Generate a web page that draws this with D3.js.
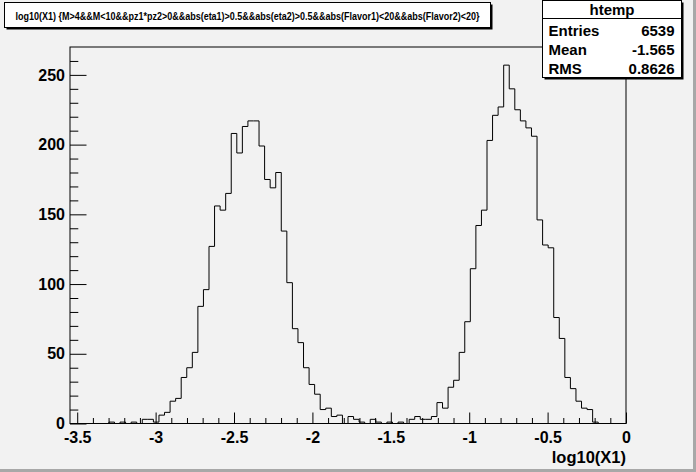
<!DOCTYPE html>
<html>
<head>
<meta charset="utf-8">
<script src="https://cdn.jsdelivr.net/npm/d3@7"></script>
<style>
  body { margin: 0; background: #f2f2f2; }
  text { font-family: "Liberation Sans", Arial, Helvetica, sans-serif; font-weight: bold; }
</style>
</head>
<body>
<div class="chart"></div>
<script>
// histogram htemp : 100 bins of log10(X1)
var xLow = -3.546;
var xHigh = 0;
var counts = [
  0, 0, 0, 0, 0, 0, 0, 1, 0, 1,
  0, 1, 0, 3, 3, 1, 6, 8, 16, 18,
  33, 40, 51, 84, 96, 127, 156, 153, 165, 208,
  194, 213, 217, 217, 199, 175, 169, 180, 138, 101,
  68, 58, 40, 28, 21, 10, 11, 5, 6, 0,
  5, 3, 1, 0, 3, 1, 0, 1, 0, 1,
  0, 3, 5, 3, 3, 5, 15, 11, 26, 31,
  51, 73, 111, 142, 153, 203, 221, 227, 257, 240,
  225, 217, 212, 206, 146, 128, 126, 76, 61, 33,
  25, 16, 11, 10, 1, 0, 0, 0, 0, 0
];
var xTicks = [-3.5, -3, -2.5, -2, -1.5, -1, -0.5, 0];
var yTicks = [0, 50, 100, 150, 200, 250];
var yMax = 270;

var titleText = "log10(X1) {M>4&&M<10&&pz1*pz2>0&&abs(eta1)>0.5&&abs(eta2)>0.5&&abs(Flavor1)<20&&abs(Flavor2)<20}";
var statsName = "htemp";
var statsRows = [["Entries", "6539"], ["Mean", "-1.565"], ["RMS", "0.8626"]];
var xTitle = "log10(X1)";

var svgWidth = 696;
var svgHeight = 472;

var margin = { top: 47, right: 70, bottom: 48.5, left: 70 };
var width = svgWidth - margin.left - margin.right;
var height = svgHeight - margin.top - margin.bottom;

var svg = d3.select(".chart")
  .append("svg")
  .attr("width", svgWidth)
  .attr("height", svgHeight)
  .style("display", "block");

// canvas border (grey bevel right / bottom)
svg.append("rect")
  .attr("width", svgWidth).attr("height", svgHeight)
  .attr("fill", "#f2f2f2");
svg.append("path")
  .attr("d", `M${svgWidth - 1.5},0 V${svgHeight - 1.5} H0`)
  .attr("fill", "none").attr("stroke", "#a8a8a8").attr("stroke-width", 3);

var chartGroup = svg.append("g")
  .attr("transform", `translate(${margin.left}, ${margin.top})`);

// scales
var binWidth = (xHigh - xLow) / counts.length;

var xLinearScale = d3.scaleLinear()
  .domain([xLow, xHigh])
  .range([0, width]);

var yLinearScale = d3.scaleLinear()
  .domain([0, yMax])
  .range([height, 0]);

// minor ticks (every 0.1 on x, every 10 on y), drawn inside the frame
var xMinor = d3.range(-35, 1).map(d => d / 10).filter(d => xTicks.indexOf(d) < 0);
var yMinor = d3.range(0, 261, 10).filter(d => yTicks.indexOf(d) < 0);

// plain hyphen for negative labels, like ROOT
var bottomAxis = d3.axisBottom(xLinearScale)
  .tickValues(xTicks)
  .tickSize(-11)
  .tickPadding(8)
  .tickFormat(d => String(d));

var bottomMinor = d3.axisBottom(xLinearScale)
  .tickValues(xMinor)
  .tickSize(-5.5)
  .tickFormat("");

var leftAxis = d3.axisLeft(yLinearScale)
  .tickValues(yTicks)
  .tickSize(-16.5)
  .tickPadding(5);

var leftMinor = d3.axisLeft(yLinearScale)
  .tickValues(yMinor)
  .tickSize(-8.3)
  .tickFormat("");

chartGroup.append("g")
  .attr("class", "x axis")
  .attr("transform", `translate(0,${height})`)
  .call(bottomAxis);

chartGroup.append("g")
  .attr("transform", `translate(0,${height})`)
  .call(bottomMinor);

chartGroup.append("g")
  .attr("class", "y axis")
  .call(leftAxis);

chartGroup.append("g")
  .call(leftMinor);

chartGroup.selectAll(".domain").remove();
chartGroup.selectAll(".tick line").attr("stroke", "#000").attr("stroke-width", 1);
chartGroup.selectAll(".axis text")
  .attr("fill", "#000")
  .style("font-size", "16px");
chartGroup.selectAll(".x.axis text").attr("dy", "0.71em");

// frame
chartGroup.append("rect")
  .attr("width", width)
  .attr("height", height)
  .attr("fill", "none")
  .attr("stroke", "#000")
  .attr("stroke-width", 1);

// histogram outline
var pts = [[xLinearScale(xLow), yLinearScale(0)]];
counts.forEach(function (c, i) {
  var x0 = xLow + i * binWidth;
  pts.push([xLinearScale(x0), yLinearScale(c)]);
  pts.push([xLinearScale(x0 + binWidth), yLinearScale(c)]);
});
pts.push([xLinearScale(xHigh), yLinearScale(0)]);

chartGroup.append("path")
  .datum(pts)
  .attr("d", d3.line())
  .attr("fill", "none")
  .attr("stroke", "#000")
  .attr("stroke-width", 1);

// x axis title
chartGroup.append("text")
  .attr("x", width)
  .attr("y", height + 39.5)
  .attr("text-anchor", "end")
  .style("font-size", "16.5px")
  .text(xTitle);

// title pave
var tBox = { x: 4.5, y: 2.5, w: 486, h: 25 };
svg.append("rect")
  .attr("x", tBox.x + 2).attr("y", tBox.y + 2)
  .attr("width", tBox.w).attr("height", tBox.h)
  .attr("fill", "#000");
svg.append("rect")
  .attr("x", tBox.x).attr("y", tBox.y)
  .attr("width", tBox.w).attr("height", tBox.h)
  .attr("fill", "#fff").attr("stroke", "#000");
svg.append("text")
  .attr("x", tBox.x + tBox.w / 2)
  .attr("y", 19.5)
  .attr("text-anchor", "middle")
  .attr("textLength", 464)
  .attr("lengthAdjust", "spacingAndGlyphs")
  .style("font-size", "10px")
  .text(titleText);

// stats pave
var sBox = { x: 542.5, y: 0.5, w: 139, h: 77 };
svg.append("rect")
  .attr("x", sBox.x + 2).attr("y", sBox.y + 2)
  .attr("width", sBox.w).attr("height", sBox.h)
  .attr("fill", "#000");
svg.append("rect")
  .attr("x", sBox.x).attr("y", sBox.y)
  .attr("width", sBox.w).attr("height", sBox.h)
  .attr("fill", "#fff").attr("stroke", "#000");
svg.append("line")
  .attr("x1", sBox.x).attr("x2", sBox.x + sBox.w)
  .attr("y1", 18.5).attr("y2", 18.5)
  .attr("stroke", "#000");
svg.append("text")
  .attr("x", sBox.x + sBox.w / 2)
  .attr("y", 14.5)
  .attr("text-anchor", "middle")
  .style("font-size", "15px")
  .text(statsName);

var rows = svg.selectAll(".srow")
  .data(statsRows)
  .enter()
  .append("g")
  .attr("class", "srow")
  .attr("transform", (d, i) => `translate(0, ${35.5 + i * 19})`);

rows.append("text")
  .attr("x", sBox.x + 6)
  .style("font-size", "15px")
  .text(d => d[0]);

rows.append("text")
  .attr("x", sBox.x + sBox.w - 7)
  .attr("text-anchor", "end")
  .style("font-size", "15px")
  .text(d => d[1]);
</script>
</body>
</html>
